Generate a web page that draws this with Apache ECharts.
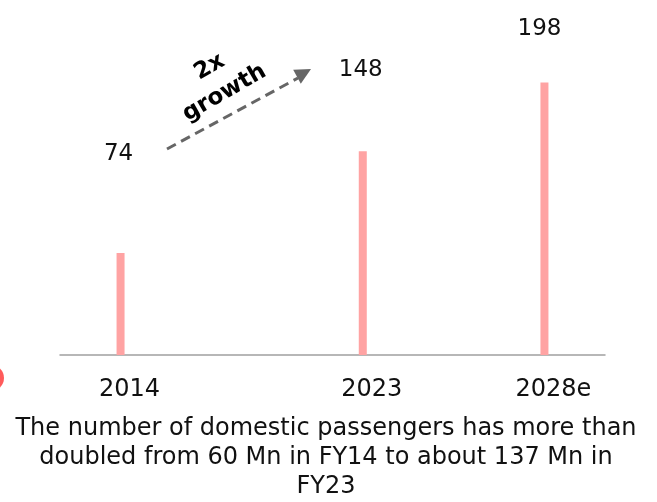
<!DOCTYPE html>
<html>
<head>
<meta charset="utf-8">
<script src="https://cdn.jsdelivr.net/npm/echarts@6/dist/echarts.min.js"></script>
<style>
html,body{margin:0;padding:0;background:#fff;}
#chart{width:657px;height:502px;}
</style>
</head>
<body>
<div id="chart"></div>
<script>
// ---- data ----
const categories = ['2014', '2023', '2028e'];
const values = [74, 148, 198];
const caption = 'The number of domestic passengers has more than\ndoubled from 60 Mn in FY14 to about 137 Mn in\nFY23';
const annotation = '2x\ngrowth';

// ---- layout (not data) ----
const slotCount = 10;
const slots = [1, 5, 8];
const labelOffsets = [[-2, -83], [-2, -65], [-5, -37]];
const FONT = '"DejaVu Sans"';

const xData = new Array(slotCount).fill('');
const barData = new Array(slotCount).fill('-');
slots.forEach((s, i) => {
  xData[s] = categories[i];
  barData[s] = { value: values[i], label: { offset: labelOffsets[i] } };
});

const chart = echarts.init(document.getElementById('chart'));
chart.setOption({
  animation: false,
  backgroundColor: '#fff',
  textStyle: { fontFamily: FONT },
  grid: { left: 60, right: 52, top: 70, bottom: 147, containLabel: false },
  xAxis: {
    type: 'category',
    data: xData,
    boundaryGap: false,
    axisLine: { show: true, lineStyle: { color: '#a0a0a0', width: 1.5 } },
    axisTick: { show: false },
    splitLine: { show: false },
    axisLabel: {
      interval: 0,
      margin: 23,
      formatter: v => v ? '{a|' + v + '}' : '',
      rich: { a: { fontFamily: FONT, fontSize: 24, color: '#111', padding: [0, 0, 0, 18] } }
    }
  },
  yAxis: { type: 'value', min: 0, max: 207, show: false, splitLine: { show: false } },
  series: [{
    type: 'bar',
    data: barData,
    barWidth: 8,
    itemStyle: { color: '#ffa3a3' },
    label: { show: true, position: 'top', fontFamily: FONT, fontSize: 23, color: '#111' }
  }],
  graphic: [
    { type: 'circle', shape: { cx: -9, cy: 378, r: 13 }, style: { fill: '#ff5b5b' } },
    { type: 'line', shape: { x1: 167, y1: 149, x2: 298, y2: 78 }, style: { stroke: '#666', lineWidth: 3, lineDash: [10, 6] } },
    { type: 'polygon', shape: { points: [[311, 69], [300.8, 83.7], [293.2, 69.7]] }, style: { fill: '#666' } },
    {
      type: 'text', x: 217, y: 80, rotation: Math.PI / 6,
      style: { text: annotation, font: 'bold 23px ' + FONT, fill: '#000', align: 'center', verticalAlign: 'middle', lineHeight: 30 }
    },
    {
      type: 'text', x: 326, y: 414,
      style: { text: caption, font: '24px ' + FONT, fill: '#111', align: 'center', verticalAlign: 'top', lineHeight: 29 }
    }
  ]
});
</script>
</body>
</html>
